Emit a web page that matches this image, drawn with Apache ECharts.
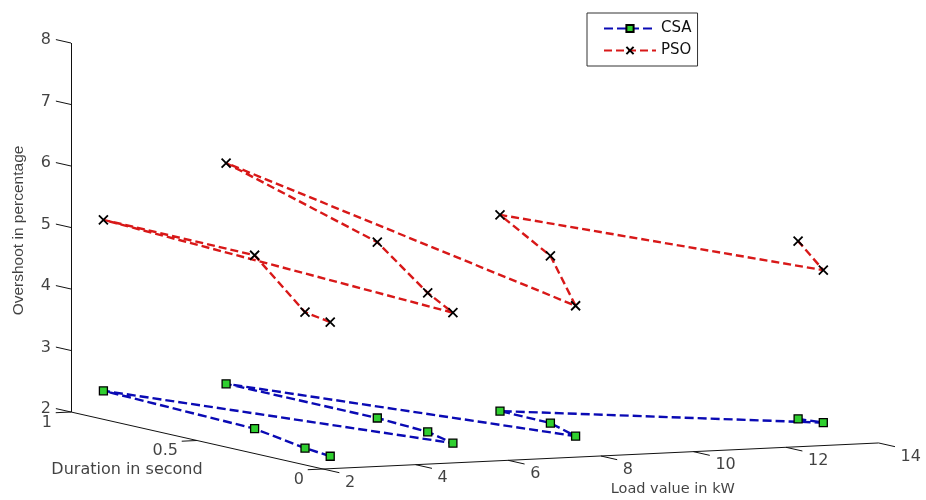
<!DOCTYPE html>
<html><head><meta charset="utf-8">
<script src="https://cdn.jsdelivr.net/npm/echarts@6/dist/echarts.min.js"></script>
<style>html,body{margin:0;padding:0;background:#fff}#c{width:926px;height:500px}</style>
</head><body><div id="c"></div>
<script>
// ---- data (3-D points: load kW, duration s, overshoot %) ----
const loadValues     = [2.7, 2.7, 2.7, 2.7, 5.35, 5.35, 5.35, 5.35, 8.0, 8.0, 8.0, 13.35, 13.35];
const durationValues = [0.1, 0.2, 0.4, 1.0, 0.1, 0.2, 0.4, 1.0, 0.1, 0.2, 0.4, 0.1, 0.2];
const csaOvershoot   = [2.09, 2.13, 2.26, 2.32, 2.21, 2.30, 2.34, 2.34, 2.23, 2.35, 2.36, 2.26, 2.23];
const psoOvershoot   = [4.27, 4.34, 5.08, 5.10, 4.33, 4.56, 5.20, 5.93, 4.35, 5.07, 5.55, 4.74, 5.12];
const loadTicks      = [2, 4, 6, 8, 10, 12, 14];
const durationTicks  = [0, 0.5, 1];
const overshootTicks = [2, 3, 4, 5, 6, 7, 8];
const seriesNames    = ['CSA', 'PSO'];
const axisTitles     = ['Load value in kW', 'Duration in second', 'Overshoot in percentage'];

// ---- orthographic 3-D view projection onto the 2-D page axes ----
const L0 = 2, L1 = 14, D0 = 0, D1 = 1, Z0 = 2, Z1 = 8;
const ORG = [323, 469];
const eL = [46.3, -2.17], eD = [-252, -57], eZ = [0, -61.5];
function proj(L, D, Z) {
  return [ORG[0] + eL[0]*(L-L0) + eD[0]*(D-D0) + eZ[0]*(Z-Z0),
          ORG[1] + eL[1]*(L-L0) + eD[1]*(D-D0) + eZ[1]*(Z-Z0)];
}

const csaPts = loadValues.map((l, i) => proj(l, durationValues[i], csaOvershoot[i]));
const psoPts = loadValues.map((l, i) => proj(l, durationValues[i], psoOvershoot[i]));

// axis lines & ticks
const segs = [];
segs.push({coords: [proj(L0, D1, Z1), proj(L0, D1, Z0)]});
segs.push({coords: [proj(L0, D1, Z0), proj(L0, D0, Z0)]});
segs.push({coords: [proj(L0, D0, Z0), proj(L1, D0, Z0)]});
overshootTicks.forEach(z => segs.push({coords: [proj(L0, D1, z), proj(L0, D1 + 0.06, z)]}));
durationTicks.forEach(d => segs.push({coords: [proj(L0, d, Z0), proj(L0 - 0.33, d, Z0)]}));
loadTicks.forEach(l => segs.push({coords: [proj(l, D0, Z0), proj(l, D0 - 0.065, Z0)]}));

const font = 'DejaVu Sans';
const labels = [];
overshootTicks.forEach(z => { const p = proj(L0, D1, z);
  labels.push({name: String(z), value: [p[0] - 20, p[1] - 3], label: {align: 'right'}}); });
durationTicks.forEach(d => { const p = proj(L0, d, Z0);
  labels.push({name: String(d), value: [p[0] - 19, p[1] + 10.5], label: {align: 'right'}}); });
loadTicks.forEach(l => { const p = proj(l, D0, Z0);
  labels.push({name: String(l), value: [p[0] + 22, p[1] + 13.5], label: {align: 'left'}}); });
// axis titles placed relative to the projected axes
(function(){
  const a = proj((L0+L1)/2, D0, Z0);
  labels.push({name: axisTitles[0], value: [a[0] + 72, a[1] + 33], label: {align: 'center', fontSize: 14.5}});
  const b = proj(L0, (D0+D1)/2, Z0);
  labels.push({name: axisTitles[1], value: [b[0] - 70, b[1] + 29], label: {align: 'center', fontSize: 16}});
  const c = proj(L0, D1, (Z0+Z1)/2);
  labels.push({name: axisTitles[2], value: [c[0] - 52, c[1] + 3], label: {align: 'center', rotate: 90, fontFamily: 'Liberation Sans', fontSize: 15.5}});
})();

const chart = echarts.init(document.getElementById('c'), null, {renderer: 'canvas'});
chart.setOption({
  animation: false,
  backgroundColor: '#fff',
  grid: {left: 0, right: 0, top: 0, bottom: 0},
  xAxis: {type: 'value', min: 0, max: 926, show: false},
  yAxis: {type: 'value', min: 0, max: 500, inverse: true, show: false},
  legend: {
    data: seriesNames, orient: 'vertical', left: 587, top: 13,
    padding: [8, 6, 8, 16], itemGap: 7, itemWidth: 52, itemHeight: 9,
    borderColor: '#333', borderWidth: 1, backgroundColor: '#fff',
    textStyle: {fontFamily: font, fontSize: 15, color: '#111'}
  },
  series: [
    {type: 'lines', coordinateSystem: 'cartesian2d', silent: true, z: 1,
     lineStyle: {color: '#111', width: 1, opacity: 1}, data: segs},
    {type: 'scatter', silent: true, symbolSize: 0, z: 1, data: labels,
     label: {show: true, position: 'inside', formatter: p => p.name,
             fontFamily: font, fontSize: 16, color: '#111', verticalAlign: 'middle'}},
    {name: seriesNames[0], type: 'line', data: csaPts, z: 3,
     symbol: 'rect', symbolSize: 8,
     itemStyle: {color: '#2fcf2f', borderColor: '#000', borderWidth: 1.3},
     lineStyle: {color: '#0a0ab4', width: 2.4, type: [9, 4]}},
    {name: seriesNames[1], type: 'line', data: psoPts, z: 4,
     symbol: 'path://M0,0L10,10M10,0L0,10', symbolSize: 9,
     itemStyle: {color: '#000', borderColor: '#000', borderWidth: 1.8},
     lineStyle: {color: '#d81818', width: 2.4, type: [8, 4]}}
  ]
});
</script></body></html>
